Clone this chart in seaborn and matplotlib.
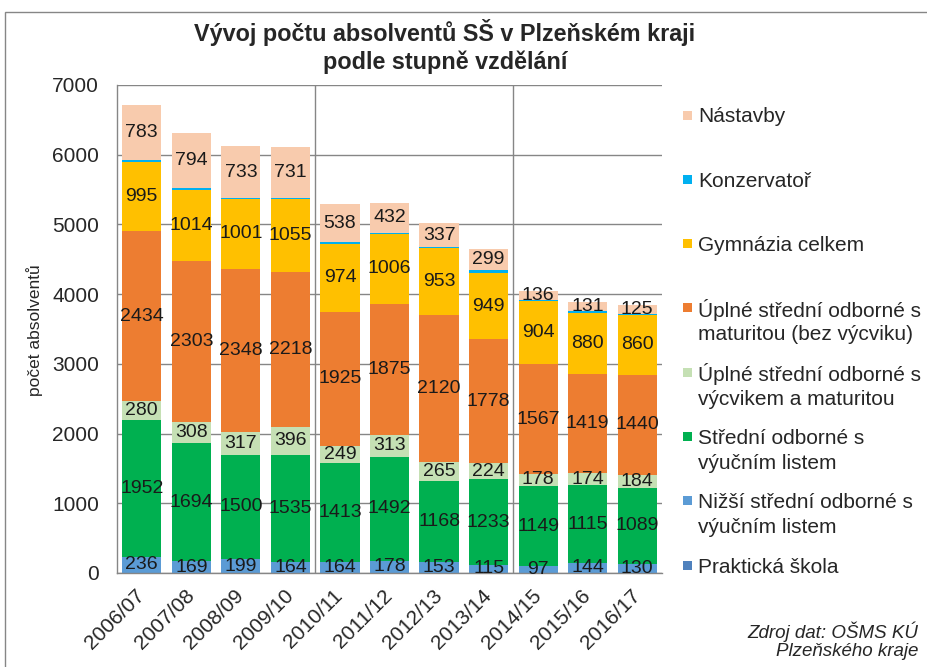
import numpy as np
import pandas as pd
import matplotlib.pyplot as plt
import matplotlib.patches as mpatches
import seaborn as sns

# Data (počet absolventů)
roky = ["2006/07", "2007/08", "2008/09", "2009/10", "2010/11", "2011/12",
        "2012/13", "2013/14", "2014/15", "2015/16", "2016/17"]

prakticka = [0, 0, 0, 0, 0, 0, 0, 0, 0, 0, 0]
nizsi = [236, 169, 199, 164, 164, 178, 153, 115, 97, 144, 130]
stredni_vl = [1952, 1694, 1500, 1535, 1413, 1492, 1168, 1233, 1149, 1115, 1089]
uplne_vycvik = [280, 308, 317, 396, 249, 313, 265, 224, 178, 174, 184]
uplne_mat = [2434, 2303, 2348, 2218, 1925, 1875, 2120, 1778, 1567, 1419, 1440]
gymnazia = [995, 1014, 1001, 1055, 974, 1006, 953, 949, 904, 880, 860]
konzervator = [30, 28, 20, 18, 25, 15, 18, 45, 18, 20, 15]
nastavby = [783, 794, 733, 731, 538, 432, 337, 299, 136, 131, 125]

serie = ["Praktická škola",
         "Nižší střední odborné s výučním listem",
         "Střední odborné s výučním listem",
         "Úplné střední odborné s výcvikem a maturitou",
         "Úplné střední odborné s maturitou (bez výcviku)",
         "Gymnázia celkem",
         "Konzervatoř",
         "Nástavby"]
legenda = ["Praktická škola",
           "Nižší střední odborné s\nvýučním listem",
           "Střední odborné s\nvýučním listem",
           "Úplné střední odborné s\nvýcvikem a maturitou",
           "Úplné střední odborné s\nmaturitou (bez výcviku)",
           "Gymnázia celkem",
           "Konzervatoř",
           "Nástavby"]
barvy = ["#4F81BD", "#5B9BD5", "#00B050", "#C5E0B4",
         "#ED7D31", "#FFC000", "#00B0F0", "#F8CBAD"]
popisky = [False, True, True, True, True, True, False, True]

df = pd.DataFrame({"rok": roky})
for name, vals in zip(serie, [prakticka, nizsi, stredni_vl, uplne_vycvik,
                              uplne_mat, gymnazia, konzervator, nastavby]):
    df[name] = vals

sns.set_style("white")
plt.rcParams["font.family"] = ["Liberation Sans", "DejaVu Sans"]

W, H = 928, 667
fig = plt.figure(figsize=(W / 100, H / 100), dpi=100)
ax = fig.add_axes([117 / W, 1 - 573 / H, (662 - 117) / W, (573 - 85) / H])

grey = "#868686"
bottom = np.zeros(len(roky))
for name, col, lab in zip(serie, barvy, popisky):
    sns.barplot(data=df, x="rok", y=name, color=col, saturation=1, width=0.79,
                errorbar=None, bottom=bottom.copy(), linewidth=0, ax=ax)
    if lab:
        ax.bar_label(ax.containers[-1], labels=[str(v) for v in df[name]],
                     label_type="center", fontsize=14, color="#1a1a1a")
    bottom += df[name].values

ax.set_ylim(0, 7000)
ax.set_xlim(-0.5, len(roky) - 0.5)
ax.set_yticks(range(0, 7001, 1000))
ax.yaxis.grid(True, color=grey, linewidth=1)
ax.set_axisbelow(True)
for xv in [3.5, 7.5]:
    ax.axvline(xv, color=grey, linewidth=1, zorder=0.5)

for s in ["top", "right"]:
    ax.spines[s].set_visible(False)
for s in ["left", "bottom"]:
    ax.spines[s].set_color(grey)
    ax.spines[s].set_linewidth(1)

ax.tick_params(axis="y", direction="out", length=5, color=grey, labelsize=15, pad=8)
ax.tick_params(axis="x", length=0, labelsize=15, pad=14)
ax.set_xticks([-0.5, 3.5, 7.5], minor=True)
ax.tick_params(axis="x", which="minor", direction="out", length=5, color=grey)
plt.setp(ax.get_xticklabels(), rotation=45, ha="right", va="center",
         rotation_mode="anchor")
ax.set_xlabel("")
ax.set_ylabel("")

fig.text(35 / W, 1 - 330 / H, "počet absolventů", rotation=90,
         ha="center", va="center", fontsize=12.5)

fig.text(445 / W, 1 - 33 / H, "Vývoj počtu absolventů SŠ v Plzeňském kraji",
         ha="center", va="center", fontsize=16.8, fontweight="bold")
fig.text(445 / W, 1 - 62 / H, "podle stupně vzdělání",
         ha="center", va="center", fontsize=16.8, fontweight="bold")

# legend (top entry = last series)
for i, (text, col) in enumerate(zip(legenda[::-1], barvy[::-1])):
    yc = 115 + 64.3 * i
    fig.patches.append(mpatches.Rectangle((683 / W, 1 - (yc + 4.5) / H), 9 / W, 9 / H,
                                          transform=fig.transFigure,
                                          facecolor=col, edgecolor="none"))
    for j, line in enumerate(text.split("\n")):
        fig.text(698 / W, 1 - (yc + 25 * j) / H, line, ha="left",
                 va="center_baseline", fontsize=15)

fig.text(918 / W, 1 - 632 / H, "Zdroj dat: OŠMS KÚ", ha="right",
         va="center", fontsize=13.5, style="italic")
fig.text(918 / W, 1 - 651 / H, "Plzeňského kraje", ha="right",
         va="center", fontsize=13.5, style="italic")

fig.patches.append(mpatches.Rectangle((5 / W, -0.01), 1.0, 1 - 12 / H + 0.01,
                                      transform=fig.transFigure, fill=False,
                                      edgecolor=grey, linewidth=1))

fig.savefig("out.png", dpi=100)
